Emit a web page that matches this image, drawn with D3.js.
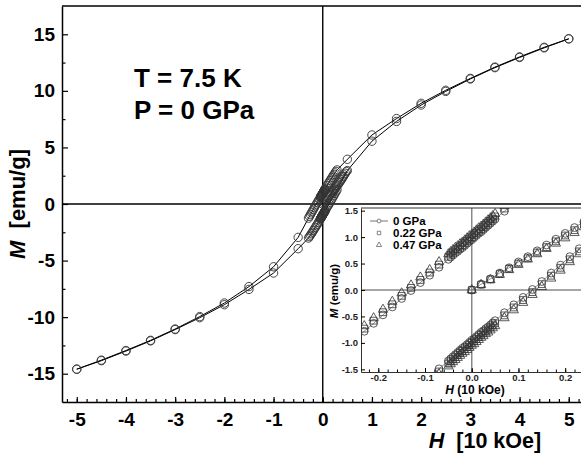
<!DOCTYPE html>
<html>
<head>
<meta charset="utf-8">
<script src="https://cdnjs.cloudflare.com/ajax/libs/d3/7.8.5/d3.min.js"></script>
<style>
  body { margin: 0; background: #fff; }
  svg { display: block; font-family: "Liberation Sans", Arial, sans-serif; font-weight: bold; }
</style>
</head>
<body>
<svg id="chart" width="581" height="459"></svg>
<script>
// H in units of 10 kOe, M in emu/g

// low-field steps, field going down and going up
let hLowDown = [0.29,0.27,0.25,0.23,0.21,0.19,0.17,0.15,0.13,0.11,0.09,0.07,
                0.05,0.045,0.04,0.035,0.03,0.025,0.02,0.015,0.01,0.005,0,-0.005,-0.01,-0.015,-0.02,-0.025,-0.03,-0.035,-0.04,-0.045,-0.05,
                -0.07,-0.09,-0.11,-0.13,-0.15,-0.17,-0.19,-0.21,-0.23,-0.25,-0.27,-0.29];
let hLowUp = [-0.29,-0.27,-0.25,-0.23,-0.21,-0.19,-0.17,-0.15,-0.13,-0.11,-0.09,-0.07,
              -0.05,-0.045,-0.04,-0.035,-0.03,-0.025,-0.02,-0.015,-0.01,-0.005,0,0.005,0.01,0.015,0.02,0.025,0.03,0.035,0.04,0.045,0.05,
              0.07,0.09,0.11,0.13,0.15,0.17,0.19,0.21,0.23,0.25,0.27,0.29];
let hHighPos = [5,4.5,4,3.5,3,2.5,2,1.5,1,0.5];
let hHighNeg = [-0.5,-1,-1.5,-2,-2.5,-3,-3.5,-4,-4.5,-5];
let hVirgin = [0,0.02,0.04,0.06,0.08,0.1,0.12,0.14,0.16,0.18,0.2,0.22,0.24,0.26,0.28,0.3,0.32,0.34,0.36,0.38,0.4,0.42,0.44,0.46,0.48];

// 0 GPa, full loop (main plot)
let mDownHigh0 = [14.6,13.85,13.0,12.1,11.1,10.05,8.9,7.55,6.1,3.95];
let mDownLow0 = [3.01,2.88,2.75,2.62,2.49,2.35,2.21,2.07,1.93,1.79,1.64,1.49,
                 1.34,1.30,1.26,1.22,1.18,1.14,1.10,1.07,1.03,0.99,0.95,0.92,0.88,0.84,0.80,0.77,0.73,0.70,0.66,0.62,0.58,
                 0.43,0.28,0.14,-0.01,-0.16,-0.32,-0.47,-0.63,-0.78,-0.94,-1.09,-1.25];
let mDownNeg0 = [-2.95,-5.55,-7.3,-8.75,-9.95,-11.05,-12.05,-12.95,-13.8,-14.6];
let mUpNeg0 = [-14.6,-13.85,-13.0,-12.1,-11.1,-10.05,-8.9,-7.55,-6.1,-3.95];
let mUpLow0 = [-3.01,-2.88,-2.75,-2.62,-2.49,-2.35,-2.21,-2.07,-1.93,-1.79,-1.64,-1.49,
               -1.34,-1.30,-1.26,-1.22,-1.18,-1.14,-1.10,-1.07,-1.03,-0.99,-0.95,-0.92,-0.88,-0.84,-0.80,-0.77,-0.73,-0.70,-0.66,-0.62,-0.58,
               -0.43,-0.28,-0.14,0.01,0.16,0.32,0.47,0.63,0.78,0.94,1.09,1.25];
let mUpHigh0 = [2.95,5.55,7.3,8.75,9.95,11.05,12.05,12.95,13.8,14.6];
let mVirgin0 = [0,0.11,0.21,0.32,0.42,0.53,0.63,0.74,0.85,0.96,1.07,1.18,1.29,1.40,1.52,1.64,1.76,1.89,2.02,2.15,2.29,2.43,2.57,2.72,2.87];

// 0.22 GPa, low field only (inset)
let mDownLow22 = [3.06,2.93,2.80,2.67,2.54,2.40,2.26,2.12,1.98,1.84,1.69,1.54,
                  1.39,1.35,1.31,1.27,1.23,1.19,1.15,1.12,1.08,1.04,1.00,0.97,0.93,0.89,0.85,0.82,0.78,0.75,0.71,0.67,0.63,
                  0.48,0.33,0.19,0.04,-0.11,-0.27,-0.42,-0.58,-0.73,-0.89,-1.04,-1.20];
let mUpLow22 = [-3.06,-2.93,-2.80,-2.67,-2.54,-2.40,-2.26,-2.12,-1.98,-1.84,-1.69,-1.54,
                -1.39,-1.35,-1.31,-1.27,-1.23,-1.19,-1.15,-1.12,-1.08,-1.04,-1.00,-0.97,-0.93,-0.89,-0.85,-0.82,-0.78,-0.75,-0.71,-0.67,-0.63,
                -0.48,-0.33,-0.19,-0.04,0.11,0.27,0.42,0.58,0.73,0.89,1.04,1.20];
let mVirgin22 = [0,0.10,0.20,0.30,0.40,0.50,0.60,0.71,0.81,0.92,1.03,1.13,1.24];

// 0.47 GPa, low field only (inset)
let mDownLow47 = [3.11,2.98,2.85,2.72,2.59,2.45,2.31,2.17,2.03,1.89,1.74,1.59,
                  1.44,1.40,1.36,1.32,1.28,1.24,1.20,1.17,1.13,1.09,1.05,1.02,0.98,0.94,0.90,0.87,0.83,0.80,0.76,0.72,0.68,
                  0.53,0.38,0.24,0.09,-0.06,-0.22,-0.37,-0.53,-0.68,-0.84,-0.99,-1.15];
let mUpLow47 = [-3.11,-2.98,-2.85,-2.72,-2.59,-2.45,-2.31,-2.17,-2.03,-1.89,-1.74,-1.59,
                -1.44,-1.40,-1.36,-1.32,-1.28,-1.24,-1.20,-1.17,-1.13,-1.09,-1.05,-1.02,-0.98,-0.94,-0.90,-0.87,-0.83,-0.80,-0.76,-0.72,-0.68,
                -0.53,-0.38,-0.24,-0.09,0.06,0.22,0.37,0.53,0.68,0.84,0.99,1.15];
let mVirgin47 = [0,0.10,0.19,0.29,0.38,0.48,0.58,0.68,0.78,0.88,0.98,1.08,1.19];

let xTicks = [-5,-4,-3,-2,-1,0,1,2,3,4,5];
let yTicks = [-15,-10,-5,0,5,10,15];
let insetXTicks = [-0.2,-0.1,0,0.1,0.2];
let insetYTicks = [-1.5,-1,-0.5,0,0.5,1,1.5];
let legendLabels = ["0 GPa","0.22 GPa","0.47 GPa"];

let fmtHyphen = function(f){ return function(d){ return f(d).replace("\u2212","-"); }; };

let svg = d3.select("#chart");

// ---------- main plot ----------
let x = d3.scaleLinear().domain([-5.3, 5.3]).range([62, 583.5]);
let y = d3.scaleLinear().domain([-17.5, 17.5]).range([402, 6]);

let main = svg.append("g");

// minor ticks
main.append("g").attr("transform", "translate(0,402)")
    .call(d3.axisBottom(x).tickValues(d3.range(-5.2, 5.3, 0.2)).tickSize(-3).tickFormat("").tickSizeOuter(0))
    .call(g => g.select(".domain").remove());
main.append("g").attr("transform", "translate(62,0)")
    .call(d3.axisLeft(y).tickValues([-12.5,-7.5,-2.5,2.5,7.5,12.5]).tickSize(-3.5).tickFormat("").tickSizeOuter(0))
    .call(g => g.select(".domain").remove());

let xAxis = main.append("g").attr("transform", "translate(0,402)")
    .call(d3.axisBottom(x).tickValues(xTicks).tickSize(-5).tickSizeOuter(0).tickPadding(11)
          .tickFormat(fmtHyphen(d3.format("d"))));
let yAxis = main.append("g").attr("transform", "translate(62,0)")
    .call(d3.axisLeft(y).tickValues(yTicks).tickSize(-6).tickSizeOuter(0).tickPadding(7)
          .tickFormat(fmtHyphen(d3.format("d"))));

[xAxis, yAxis].forEach(function(a){
    a.selectAll("text").attr("font-size", 19).attr("font-family", null).attr("fill", "#000");
    a.select(".domain").attr("stroke-width", 1.5);
});
main.selectAll(".tick line").attr("stroke", "#000").attr("stroke-width", 1.2);

// frame top and zero lines
main.append("line").attr("x1", 62).attr("x2", 581).attr("y1", 6).attr("y2", 6)
    .attr("stroke", "#000").attr("stroke-width", 1.5);
main.append("line").attr("x1", x(0)).attr("x2", x(0)).attr("y1", 6).attr("y2", 402)
    .attr("stroke", "#000").attr("stroke-width", 1.4);
main.append("line").attr("x1", 62).attr("x2", 581).attr("y1", y(0)).attr("y2", y(0))
    .attr("stroke", "#000").attr("stroke-width", 1.4);

let downData = d3.zip(hHighPos.concat(hLowDown, hHighNeg), mDownHigh0.concat(mDownLow0, mDownNeg0));
let upData = d3.zip(hHighNeg.slice().reverse().concat(hLowUp, hHighPos.slice().reverse()),
                    mUpNeg0.concat(mUpLow0, mUpHigh0));
let virginData = d3.zip(hVirgin, mVirgin0);

let mainLine = d3.line().x(d => x(d[0])).y(d => y(d[1]));
let branches = [virginData, downData, upData];

main.append("g").selectAll("path").data(branches).enter().append("path")
    .attr("fill", "none").attr("stroke", "#000").attr("stroke-width", 1)
    .attr("d", mainLine);

main.append("g").selectAll("circle").data(d3.merge(branches)).enter().append("circle")
    .attr("cx", d => x(d[0])).attr("cy", d => y(d[1])).attr("r", 4.2)
    .attr("fill", "none").attr("stroke", "#333").attr("stroke-width", 0.9);

// axis titles
main.append("text").attr("transform", "translate(25,204) rotate(-90)")
    .attr("text-anchor", "middle").attr("font-size", 22).style("white-space", "pre")
    .html('<tspan font-style="italic">M</tspan>  [emu/g]');
main.append("text").attr("x", 485).attr("y", 448)
    .attr("text-anchor", "middle").attr("font-size", 21.5).style("white-space", "pre")
    .html('<tspan font-style="italic">H</tspan>  [10 kOe]');

main.append("text").attr("x", 134).attr("y", 87).attr("font-size", 26).style("white-space", "pre").text("T = 7.5 K");
main.append("text").attr("x", 134).attr("y", 119).attr("font-size", 26).style("white-space", "pre").text("P = 0 GPa");

// ---------- inset ----------
let ix = d3.scaleLinear().domain([-0.237, 0.236]).range([361, 582]);
let iy = d3.scaleLinear().domain([-1.55, 1.55]).range([372, 208]);

let inset = svg.append("g");
inset.append("rect").attr("x", 361).attr("y", 208).attr("width", 221).attr("height", 164).attr("fill", "#fff");

inset.append("clipPath").attr("id", "insetClip").append("rect")
    .attr("x", 361).attr("y", 208).attr("width", 221).attr("height", 164);

inset.append("line").attr("x1", ix(0)).attr("x2", ix(0)).attr("y1", 208).attr("y2", 372)
    .attr("stroke", "#888").attr("stroke-width", 1.5);
inset.append("line").attr("x1", 361).attr("x2", 582).attr("y1", iy(0)).attr("y2", iy(0))
    .attr("stroke", "#888").attr("stroke-width", 1.5);

inset.append("g").attr("transform", "translate(0,372)")
    .call(d3.axisBottom(ix).tickValues(d3.range(-0.22, 0.23, 0.02)).tickSize(-2.5).tickFormat("").tickSizeOuter(0))
    .call(g => g.select(".domain").remove());
let ixAxis = inset.append("g").attr("transform", "translate(0,372)")
    .call(d3.axisBottom(ix).tickValues(insetXTicks).tickSize(-4).tickSizeOuter(0).tickPadding(2.5)
          .tickFormat(fmtHyphen(d3.format(".1f"))));
let iyAxis = inset.append("g").attr("transform", "translate(361,0)")
    .call(d3.axisLeft(iy).tickValues(insetYTicks).tickSize(-4).tickSizeOuter(0).tickPadding(3)
          .tickFormat(fmtHyphen(d3.format(".1f"))));
[ixAxis, iyAxis].forEach(function(a){
    a.selectAll("text").attr("font-size", 9.5).attr("font-family", null).attr("fill", "#222");
    a.select(".domain").attr("stroke", "#333");
});
inset.append("line").attr("x1", 361).attr("x2", 582).attr("y1", 208).attr("y2", 208).attr("stroke", "#333");

let dataArea = inset.append("g").attr("clip-path", "url(#insetClip)");
let insetLine = d3.line().x(d => ix(d[0])).y(d => iy(d[1]));

let lowSets = [
    {sym: d3.symbolCircle, size: 48,
     branches: [d3.zip(hVirgin, mVirgin0), d3.zip(hLowDown, mDownLow0), d3.zip(hLowUp, mUpLow0)]},
    {sym: d3.symbolSquare, size: 46,
     branches: [d3.zip(hVirgin, mVirgin22), d3.zip(hLowDown, mDownLow22), d3.zip(hLowUp, mUpLow22)]},
    {sym: d3.symbolTriangle, size: 38,
     branches: [d3.zip(hVirgin, mVirgin47), d3.zip(hLowDown, mDownLow47), d3.zip(hLowUp, mUpLow47)]}
];

dataArea.append("g").selectAll("path").data(lowSets[0].branches).enter().append("path")
    .attr("fill", "none").attr("stroke", "#777").attr("stroke-width", 0.8)
    .attr("d", insetLine);

lowSets.forEach(function(s){
    dataArea.append("g").selectAll("path").data(d3.merge(s.branches)).enter().append("path")
        .attr("transform", d => "translate(" + ix(d[0]) + "," + iy(d[1]) + ")")
        .attr("d", d3.symbol(s.sym, s.size))
        .attr("fill", "none").attr("stroke", "#333").attr("stroke-width", 0.8);
});

// legend
let legend = inset.append("g").selectAll("g").data(lowSets).enter().append("g")
    .attr("transform", (d, i) => "translate(379," + (221 + i * 12) + ")");
legend.filter((d, i) => i === 0).append("line")
    .attr("x1", -9).attr("x2", 9).attr("stroke", "#777").attr("stroke-width", 1);
legend.append("path").attr("d", d => d3.symbol(d.sym, 12)())
    .attr("fill", "#fff").attr("stroke", "#666").attr("stroke-width", 0.8);
legend.append("text").attr("x", 14).attr("dy", "0.36em").attr("font-size", 11.5)
    .text((d, i) => legendLabels[i]);

// inset titles
inset.append("text").attr("transform", "translate(338,291) rotate(-90)")
    .attr("text-anchor", "middle").attr("font-size", 11.5)
    .html('<tspan font-style="italic">M</tspan> (emu/g)');
inset.append("text").attr("x", 475).attr("y", 394)
    .attr("text-anchor", "middle").attr("font-size", 12)
    .html('<tspan font-style="italic">H</tspan> (10 kOe)');
</script>
</body>
</html>
